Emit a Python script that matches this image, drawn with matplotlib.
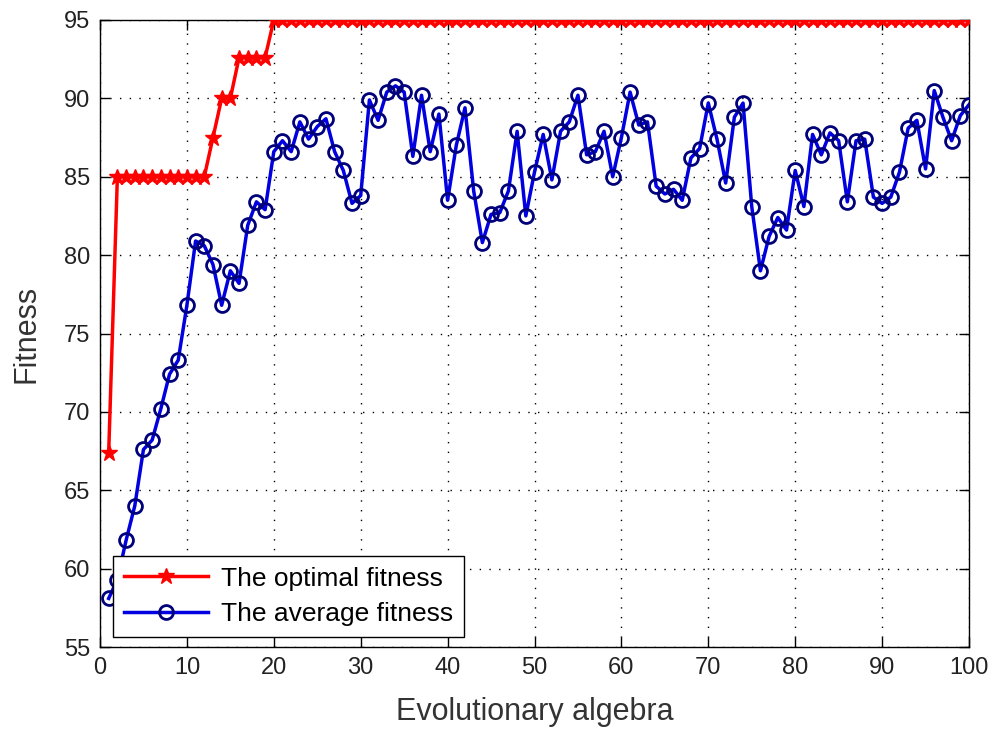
import numpy as np
import matplotlib
matplotlib.use("Agg")
from matplotlib import pyplot as plt

generations = list(range(1, 101))

optimal_fitness = [67.4] + [85.0] * 11 + [87.5, 90.0, 90.0] + [92.6] * 4 + [95.0] * 81

average_fitness = [
    58.1, 59.3, 61.8, 64.0, 67.6, 68.2, 70.2, 72.4, 73.3, 76.8,
    80.9, 80.6, 79.4, 76.8, 79.0, 78.2, 81.9, 83.4, 82.9, 86.6,
    87.3, 86.6, 88.5, 87.4, 88.2, 88.7, 86.6, 85.4, 83.3, 83.8,
    89.9, 88.6, 90.4, 90.8, 90.4, 86.3, 90.2, 86.6, 89.0, 83.5,
    87.0, 89.4, 84.1, 80.8, 82.6, 82.7, 84.1, 87.9, 82.5, 85.3,
    87.7, 84.8, 87.9, 88.5, 90.2, 86.4, 86.6, 87.9, 85.0, 87.5,
    90.4, 88.3, 88.5, 84.4, 83.9, 84.2, 83.5, 86.2, 86.8, 89.7,
    87.4, 84.6, 88.8, 89.7, 83.1, 79.0, 81.2, 82.4, 81.6, 85.4,
    83.1, 87.7, 86.4, 87.8, 87.3, 83.4, 87.3, 87.4, 83.7, 83.3,
    83.7, 85.3, 88.1, 88.6, 85.5, 90.5, 88.8, 87.3, 88.9, 89.6,
]

x_ticks = list(range(0, 101, 10))
y_ticks = list(range(55, 96, 5))

plt.rcParams['font.family'] = ['Liberation Sans', 'DejaVu Sans']

fig = plt.figure(figsize=(9.92, 7.31), dpi=100)
# axes box: x 100..969 px, y 20..647 px
ax = fig.add_axes([100 / 992, 1 - 647 / 731, 869 / 992, 627 / 731])

ax.plot(generations, optimal_fitness, color='red', lw=2.5, marker='*',
        markersize=12, markerfacecolor='red', markeredgecolor='red',
        label='The optimal fitness', zorder=3)
ax.plot(generations, average_fitness, color='#0000e0', lw=2.5, marker='o',
        markersize=10, markerfacecolor='none', markeredgecolor='#00007a',
        markeredgewidth=2, label='The average fitness', zorder=3)

ax.set_xlim(0, 100)
ax.set_ylim(55, 95)
ax.set_xticks(x_ticks)
ax.set_yticks(y_ticks)
ax.tick_params(direction='in', length=7, width=1, labelsize=17, pad=7,
               top=True, right=True, colors='black', labelcolor='#222222')
ax.grid(True, color='black', linestyle=(0, (1, 6)), linewidth=1)
for s in ax.spines.values():
    s.set_linewidth(1)

ax.set_xlabel('Evolutionary algebra', fontsize=22, color='#333333', labelpad=13)
ax.set_ylabel('Fitness', fontsize=22, color='#333333', labelpad=16)

leg = ax.legend(loc='lower left', bbox_to_anchor=(13 / 869, 10 / 627), fontsize=19,
                fancybox=False, edgecolor='black', framealpha=1,
                borderaxespad=0, handlelength=3.2, handletextpad=0.5,
                borderpad=0.4, labelspacing=0.45)
leg.get_frame().set_linewidth(1)

fig.savefig('out.png', dpi=100, facecolor='white')
